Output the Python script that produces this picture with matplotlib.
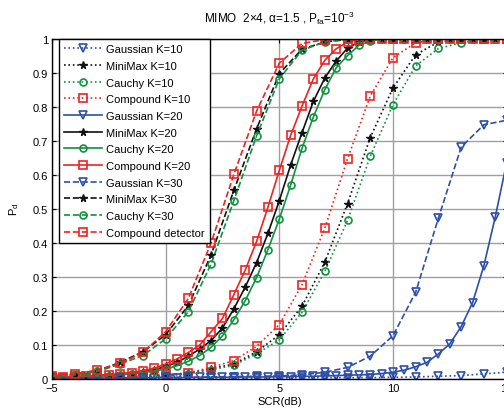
import numpy as np
import matplotlib
matplotlib.use('Agg')
import matplotlib.pyplot as plt

plt.rcParams['font.family'] = ['Liberation Sans', 'DejaVu Sans']
plt.rcParams['mathtext.default'] = 'regular'

# SCR axes (dB): K=10 and K=30 curves sampled every 1 dB, K=20 every 0.5 dB
scr_1db = np.arange(-5, 16, 1)
scr_05db = np.arange(-5, 15.01, 0.5)

# K=10
gauss_k10 = [0.002, 0.002, 0.002, 0.002, 0.002, 0.003, 0.003, 0.003, 0.003, 0.003, 0.003,
             0.004, 0.004, 0.004, 0.004, 0.005, 0.006, 0.008, 0.010, 0.015, 0.020]
minimax_k10 = [0.003, 0.003, 0.004, 0.005, 0.007, 0.010, 0.017, 0.030, 0.044, 0.080, 0.130,
               0.214, 0.343, 0.515, 0.709, 0.855, 0.953, 0.990, 0.998, 1.0, 1.0]
cauchy_k10 = [0.003, 0.003, 0.004, 0.005, 0.006, 0.009, 0.015, 0.027, 0.040, 0.074, 0.115,
              0.196, 0.316, 0.466, 0.654, 0.806, 0.920, 0.971, 0.988, 0.998, 1.0]
compound_k10 = [0.003, 0.004, 0.005, 0.007, 0.010, 0.013, 0.018, 0.034, 0.054, 0.096, 0.160,
                0.277, 0.443, 0.647, 0.831, 0.944, 0.988, 0.998, 1.0, 1.0, 1.0]

# K=20
gauss_k20 = [0.002, 0.002, 0.002, 0.002, 0.003, 0.003, 0.003, 0.003, 0.003, 0.004, 0.004,
             0.004, 0.004, 0.005, 0.005, 0.005, 0.005, 0.006, 0.006, 0.006, 0.007, 0.007,
             0.008, 0.008, 0.009, 0.010, 0.011, 0.012, 0.013, 0.016, 0.020, 0.026, 0.036,
             0.049, 0.074, 0.103, 0.154, 0.224, 0.333, 0.476, 0.635]
minimax_k20 = [0.004, 0.005, 0.006, 0.007, 0.009, 0.011, 0.013, 0.016, 0.020, 0.027, 0.037,
               0.049, 0.067, 0.088, 0.113, 0.150, 0.206, 0.270, 0.342, 0.428, 0.524, 0.629,
               0.724, 0.816, 0.884, 0.934, 0.972, 0.990, 0.997, 1.0, 1.0, 1.0, 1.0,
               1.0, 1.0, 1.0, 1.0, 1.0, 1.0, 1.0, 1.0]
cauchy_k20 = [0.004, 0.005, 0.006, 0.007, 0.008, 0.010, 0.012, 0.015, 0.019, 0.024, 0.029,
              0.039, 0.052, 0.069, 0.093, 0.127, 0.174, 0.230, 0.298, 0.380, 0.470, 0.570,
              0.678, 0.770, 0.850, 0.914, 0.950, 0.980, 0.993, 0.998, 1.0, 1.0, 1.0,
              1.0, 1.0, 1.0, 1.0, 1.0, 1.0, 1.0, 1.0]
compound_k20 = [0.005, 0.006, 0.008, 0.009, 0.011, 0.013, 0.016, 0.019, 0.024, 0.032, 0.044,
                0.059, 0.078, 0.100, 0.139, 0.178, 0.248, 0.320, 0.404, 0.505, 0.613, 0.716,
                0.802, 0.882, 0.936, 0.970, 0.990, 0.997, 0.999, 1.0, 1.0, 1.0, 1.0,
                1.0, 1.0, 1.0, 1.0, 1.0, 1.0, 1.0, 1.0]

# K=30
gauss_k30 = [0.003, 0.003, 0.003, 0.004, 0.004, 0.005, 0.005, 0.006, 0.007, 0.008, 0.009,
             0.012, 0.020, 0.034, 0.067, 0.127, 0.255, 0.473, 0.681, 0.747, 0.760]
minimax_k30 = [0.008, 0.013, 0.024, 0.049, 0.080, 0.130, 0.216, 0.365, 0.554, 0.735, 0.897,
               0.969, 0.990, 0.998, 1.0, 1.0, 1.0, 1.0, 1.0, 1.0, 1.0]
cauchy_k30 = [0.007, 0.012, 0.022, 0.044, 0.069, 0.118, 0.198, 0.338, 0.524, 0.714, 0.882,
              0.966, 0.990, 0.998, 1.0, 1.0, 1.0, 1.0, 1.0, 1.0, 1.0]
compound_k30 = [0.010, 0.015, 0.026, 0.046, 0.078, 0.139, 0.237, 0.400, 0.601, 0.787, 0.928,
                0.986, 0.997, 1.0, 1.0, 1.0, 1.0, 1.0, 1.0, 1.0, 1.0]

blue = '#2d4fa8'
black = '#111111'
green = '#139040'
red = '#ee2222'

curves = [
    (scr_1db, gauss_k10, blue, ':', 'v', 'Gaussian K=10'),
    (scr_1db, minimax_k10, black, ':', '*', 'MiniMax K=10'),
    (scr_1db, cauchy_k10, green, ':', 'o', 'Cauchy K=10'),
    (scr_1db, compound_k10, red, ':', 's', 'Compound K=10'),
    (scr_05db, gauss_k20, blue, '-', 'v', 'Gaussian K=20'),
    (scr_05db, minimax_k20, black, '-', '*', 'MiniMax K=20'),
    (scr_05db, cauchy_k20, green, '-', 'o', 'Cauchy K=20'),
    (scr_05db, compound_k20, red, '-', 's', 'Compound K=20'),
    (scr_1db, gauss_k30, blue, '--', 'v', 'Gaussian K=30'),
    (scr_1db, minimax_k30, black, '--', '*', 'MiniMax K=30'),
    (scr_1db, cauchy_k30, green, '--', 'o', 'Cauchy K=30'),
    (scr_1db, compound_k30, red, '--', 's', 'Compound detector'),
]

fig = plt.figure(figsize=(5.04, 4.10), dpi=100)
ax = fig.add_axes([0.1032, 0.0732, 0.902, 0.8302])

for x, y, c, ls, mk, lab in curves:
    if mk == '*':
        ax.plot(x, y, color=c, linestyle=ls, linewidth=1.2, marker=mk,
                markersize=5.5, markerfacecolor=c, markeredgecolor=c, label=lab)
    else:
        size = {'v': 5.5, 'o': 5.0, 's': 5.5}[mk]
        ax.plot(x, y, color=c, linestyle=ls, linewidth=1.2, marker=mk,
                markersize=size, markerfacecolor='none', markeredgecolor=c,
                markeredgewidth=1.2, label=lab)

ax.set_xlim(-5, 15)
ax.set_ylim(0, 1)
ax.set_xticks([-5, 0, 5, 10, 15])
ax.set_yticks(np.arange(0, 1.01, 0.1))
ax.set_yticklabels(['0', '0.1', '0.2', '0.3', '0.4', '0.5', '0.6', '0.7', '0.8', '0.9', '1'])
ax.grid(True, color='#a0a0a0', linewidth=1.0, linestyle='-')
ax.set_axisbelow(True)
ax.tick_params(direction='in', length=3, labelsize=8, top=True, right=True, pad=3)
for s in ax.spines.values():
    s.set_linewidth(1.0)

ax.set_xlabel('SCR(dB)', fontsize=8, labelpad=2)
ax.set_ylabel('P$_d$', fontsize=8, labelpad=8)
ax.set_title('MIMO  2\u00d74, \u03b1=1.5 , P$_{fa}$=10$^{-3}$', fontsize=8.5, pad=12)

leg = ax.legend(loc='upper left', bbox_to_anchor=(0.015, 0.998), borderaxespad=0,
                fontsize=8, handlelength=3.4, handletextpad=0.4, labelspacing=0.6,
                fancybox=False, framealpha=1, edgecolor='black', borderpad=0.45)
leg.get_frame().set_linewidth(1.0)

fig.savefig('out.png', dpi=100)
